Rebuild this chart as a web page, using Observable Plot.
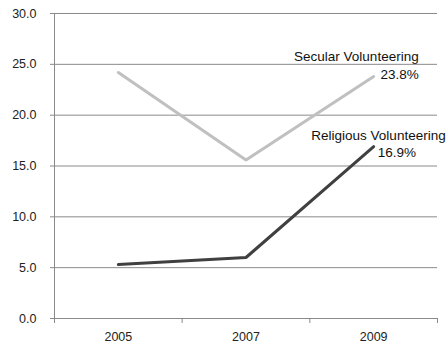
<!DOCTYPE html>
<html><head><meta charset="utf-8">
<script src="https://cdn.jsdelivr.net/npm/d3@7"></script>
<script src="https://cdn.jsdelivr.net/npm/@observablehq/plot@0.6"></script>
<style>body{margin:0;background:#fff}</style>
</head><body><div id="chart"></div>
<script>
const years = [2005, 2007, 2009];
const secular = [24.2, 15.6, 23.8];
const religious = [5.3, 6.0, 16.9];
const yTicks = [0, 5, 10, 15, 20, 25, 30];
const bandEdges = [2004, 2006, 2008, 2010];
const seriesNames = ["Secular Volunteering", "Religious Volunteering"];

const data = [];
years.forEach((yr, i) => {
  data.push({year: yr, value: secular[i], series: seriesNames[0]});
  data.push({year: yr, value: religious[i], series: seriesNames[1]});
});
const lastYear = years[years.length - 1];
const lastSec = data.filter(d => d.year === lastYear && d.series === seriesNames[0]);
const lastRel = data.filter(d => d.year === lastYear && d.series === seriesNames[1]);

const chart = Plot.plot({
  width: 448, height: 349,
  marginLeft: 54, marginRight: 11, marginTop: 13, marginBottom: 31,
  style: {fontFamily: "Liberation Sans, Arial, sans-serif", fontSize: "12.5px", color: "#222", overflow: "visible"},
  x: {type: "linear", domain: [2004, 2010], label: null},
  y: {domain: [0, 30], label: null},
  color: {domain: seriesNames, range: ["#c0c0c0", "#404040"]},
  marks: [
    Plot.ruleY(yTicks, {stroke: "#8a8a8a", strokeWidth: 1}),
    Plot.ruleX([2004], {stroke: "#8a8a8a", strokeWidth: 1}),
    Plot.axisY({ticks: yTicks, tickSize: 4, tickPadding: 14, stroke: "#8a8a8a", tickFormat: d => d.toFixed(1), label: null}),
    Plot.axisX({ticks: bandEdges, tickSize: 5, tickFormat: () => "", stroke: "#8a8a8a", label: null}),
    Plot.axisX({ticks: years, tickSize: 0, tickPadding: 14, tickFormat: d => String(d), label: null}),
    Plot.line(data, {x: "year", y: "value", z: "series",
      stroke: "series", strokeWidth: 3, strokeLinejoin: "miter"}),
    Plot.text(lastSec, {x: "year", y: "value", text: "series", textAnchor: "end", dx: 45, dy: -20, fill: "#111", fontSize: 13.5}),
    Plot.text(lastSec, {x: "year", y: "value", text: d => d.value.toFixed(1) + "%", textAnchor: "end", dx: 45, dy: -2, fill: "#111", fontSize: 13.5}),
    Plot.text(lastRel, {x: "year", y: "value", text: "series", textAnchor: "end", dx: 72, dy: -11, fill: "#111", fontSize: 13.5}),
    Plot.text(lastRel, {x: "year", y: "value", text: d => d.value.toFixed(1) + "%", textAnchor: "start", dx: 4, dy: 6, fill: "#111", fontSize: 13.5})
  ]
});
document.getElementById("chart").appendChild(chart);
</script>
</body></html>
